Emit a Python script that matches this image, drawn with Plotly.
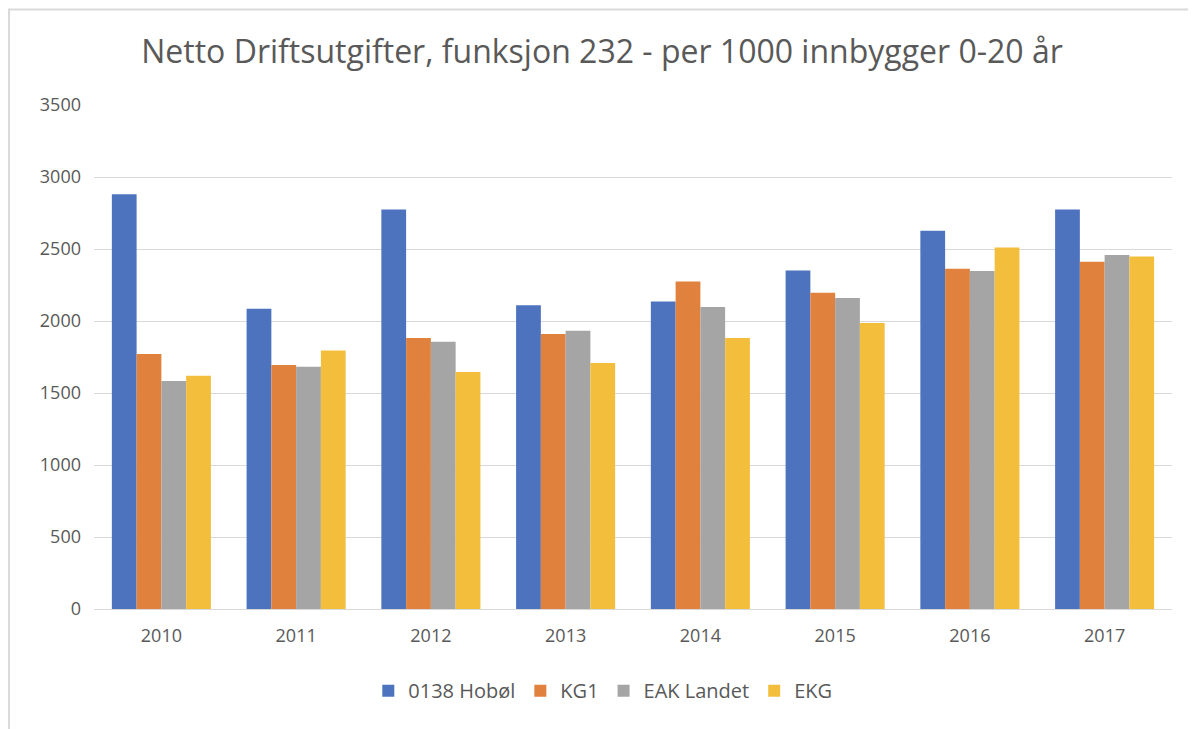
import plotly.graph_objects as go

years = ["2010", "2011", "2012", "2013", "2014", "2015", "2016", "2017"]
hobol = [2880, 2085, 2775, 2110, 2135, 2350, 2626, 2775]
kg1 = [1771, 1694, 1882, 1910, 2274, 2197, 2362, 2411]
eak_landet = [1583, 1682, 1856, 1933, 2098, 2160, 2348, 2459]
ekg = [1620, 1796, 1645, 1708, 1882, 1986, 2510, 2448]

series = [
    ("0138 Hobøl", hobol, "#4E73BE"),
    ("KG1", kg1, "#E0823E"),
    ("EAK Landet", eak_landet, "#A5A5A5"),
    ("EKG", ekg, "#F3BE3C"),
]

FONT = "Open Sans"
TXT = "#595959"

fig = go.Figure()
for name, vals, col in series:
    fig.add_trace(go.Bar(name=name, x=years, y=vals, marker=dict(color=col, line=dict(width=0))))

fig.update_layout(
    width=1188, height=721,
    paper_bgcolor="white", plot_bgcolor="white",
    barmode="group", bargap=0.265, bargroupgap=0,
    margin=dict(l=86, r=24, t=97, b=120),
    title=dict(text="Netto Driftsutgifter, funksjon 232 - per 1000 innbygger 0-20 år",
               x=0.5, xanchor="center", y=0.939, yanchor="middle", yref="container",
               font=dict(family=FONT, size=32, color=TXT)),
    font=dict(family=FONT, size=18, color=TXT),
    legend=dict(orientation="h", x=0.472, xanchor="center", y=-0.162, yanchor="middle",
                font=dict(family=FONT, size=20, color=TXT), traceorder="normal"),
    yaxis=dict(range=[0, 3500], dtick=500, showgrid=True, gridcolor="#D9D9D9", gridwidth=1,
               zeroline=False, showline=False, ticks="", ticklabelstandoff=12,
               tickfont=dict(family=FONT, size=18, color=TXT)),
    xaxis=dict(showline=True, linecolor="#D9D9D9", linewidth=1, ticks="", ticklabelstandoff=10,
               tickfont=dict(family=FONT, size=18, color=TXT)),
    shapes=[dict(type="rect", xref="paper", yref="paper", x0=-0.0788, x1=1.1, y0=-0.4, y1=1.1896,
                 line=dict(color="#D9D9D9", width=2), fillcolor="rgba(0,0,0,0)", layer="below")],
)

fig.write_html("out.html")
